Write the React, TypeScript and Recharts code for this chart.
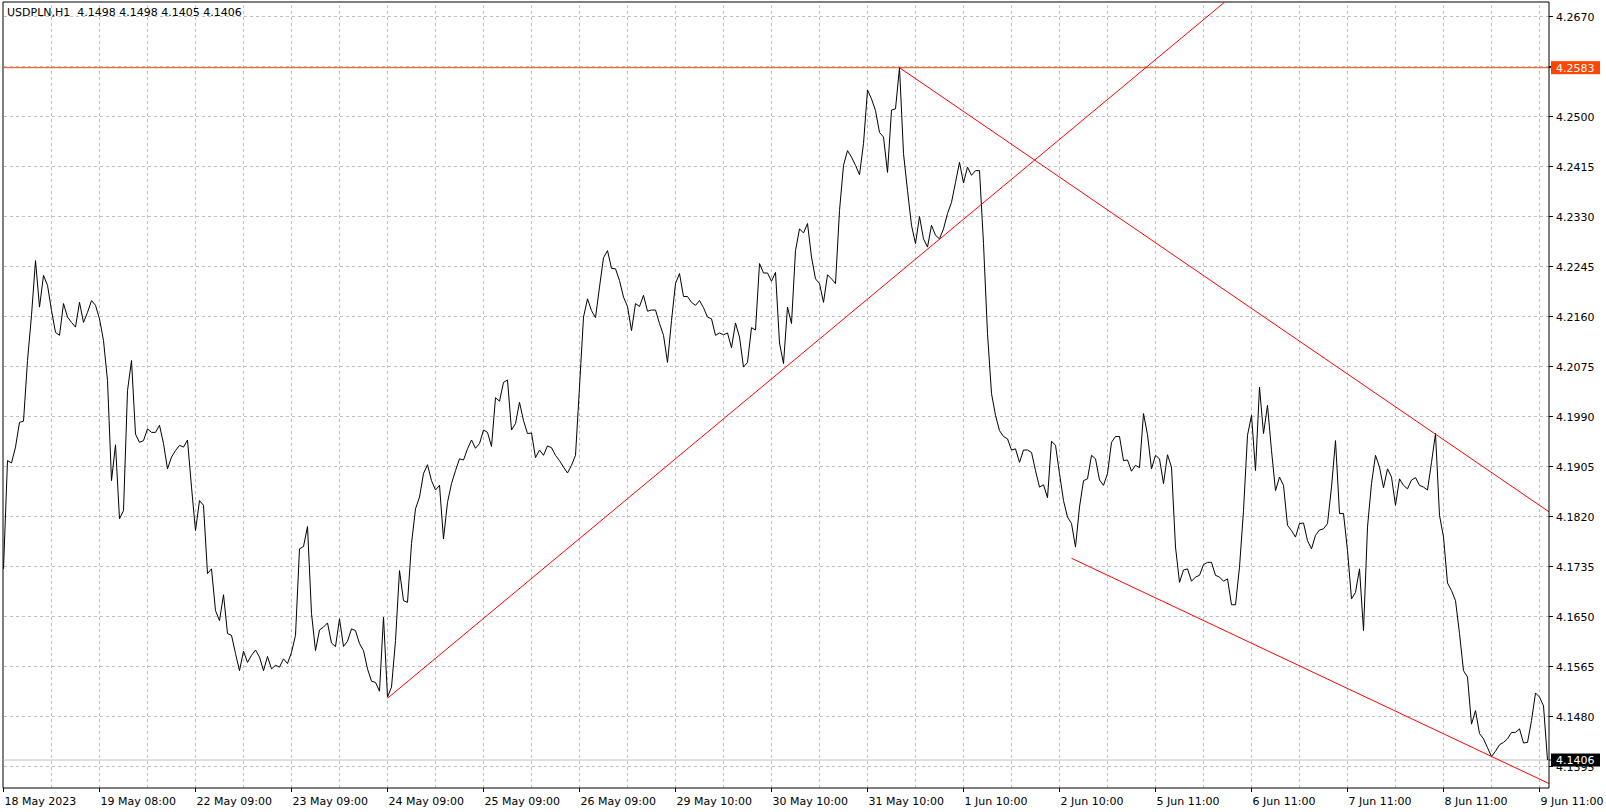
import { LineChart, Line, XAxis, YAxis, ReferenceLine } from 'recharts'

const FONT = '"DejaVu Sans", Tahoma, sans-serif'

const SYMBOL = 'USDPLN,H1'
// last bar: open, high, low, close
const LAST_OHLC = [4.1498, 4.1498, 4.1405, 4.1406]

// one label every 24 hourly bars
const X_LABELS = [
  '18 May 2023', '19 May 08:00', '22 May 09:00', '23 May 09:00', '24 May 09:00',
  '25 May 09:00', '26 May 09:00', '29 May 10:00', '30 May 10:00', '31 May 10:00',
  '1 Jun 10:00', '2 Jun 10:00', '5 Jun 11:00', '6 Jun 11:00', '7 Jun 11:00',
  '8 Jun 11:00', '9 Jun 11:00',
]
const LABEL_EVERY = 24
const GRID_EVERY = 12

const Y_TICKS = [
  4.1395, 4.148, 4.1565, 4.165, 4.1735, 4.182, 4.1905, 4.199,
  4.2075, 4.216, 4.2245, 4.233, 4.2415, 4.25, 4.2585, 4.267,
]

// H1 closes, bar 0 .. 386
const CLOSE = [
  4.1731, 4.1915, 4.1911, 4.1938, 4.1980, 4.1982, 4.2085, 4.2162, 4.2255, 4.2176, 4.2230, 4.2213,
  4.2170, 4.2133, 4.2128, 4.2182, 4.2159, 4.2150, 4.2142, 4.2184, 4.2150, 4.2167, 4.2187, 4.2179,
  4.2156, 4.2119, 4.2051, 4.1881, 4.1942, 4.1816, 4.1830, 4.2034, 4.2085, 4.1960, 4.1946, 4.1949,
  4.1969, 4.1963, 4.1963, 4.1975, 4.1944, 4.1901, 4.1921, 4.1932, 4.1941, 4.1938, 4.1950, 4.1870,
  4.1796, 4.1847, 4.1839, 4.1723, 4.1731, 4.1660, 4.1643, 4.1687, 4.1621, 4.1618, 4.1587, 4.1558,
  4.1591, 4.1572, 4.1584, 4.1593, 4.1581, 4.1558, 4.1582, 4.1561, 4.1567, 4.1564, 4.1578, 4.1570,
  4.1589, 4.1618, 4.1765, 4.1769, 4.1803, 4.1655, 4.1592, 4.1627, 4.1632, 4.1639, 4.1605, 4.1599,
  4.1646, 4.1599, 4.1608, 4.1629, 4.1626, 4.1604, 4.1592, 4.1561, 4.1540, 4.1538, 4.1523, 4.1649,
  4.1513, 4.1530, 4.1609, 4.1728, 4.1677, 4.1674, 4.1774, 4.1833, 4.1853, 4.1893, 4.1908, 4.1881,
  4.1865, 4.1873, 4.1782, 4.1844, 4.1876, 4.1898, 4.1918, 4.1916, 4.1935, 4.1950, 4.1936, 4.1944,
  4.1967, 4.1963, 4.1939, 4.2022, 4.2016, 4.2048, 4.2052, 4.1967, 4.1978, 4.2014, 4.1983, 4.1961,
  4.1962, 4.1920, 4.1933, 4.1924, 4.1940, 4.1937, 4.1924, 4.1915, 4.1904, 4.1894, 4.1907, 4.1924,
  4.2040, 4.2159, 4.2190, 4.2170, 4.2158, 4.2210, 4.2260, 4.2272, 4.2242, 4.2241, 4.2221, 4.2193,
  4.2177, 4.2136, 4.2182, 4.2177, 4.2196, 4.2169, 4.2171, 4.2171, 4.2148, 4.2128, 4.2082, 4.2153,
  4.2216, 4.2233, 4.2194, 4.2194, 4.2184, 4.2179, 4.2187, 4.2175, 4.2159, 4.2156, 4.2128, 4.2132,
  4.2129, 4.2132, 4.2107, 4.2149, 4.2125, 4.2074, 4.2082, 4.2141, 4.2137, 4.2250, 4.2234, 4.2234,
  4.2220, 4.2235, 4.2115, 4.2080, 4.2176, 4.2148, 4.2272, 4.2309, 4.2302, 4.2318, 4.2261, 4.2224,
  4.2216, 4.2184, 4.2231, 4.2224, 4.2216, 4.2340, 4.2417, 4.2442, 4.2431, 4.2417, 4.2401, 4.2454,
  4.2545, 4.2530, 4.2510, 4.2473, 4.2465, 4.2405, 4.2511, 4.2513, 4.2583, 4.2437, 4.2374, 4.2315,
  4.2284, 4.2330, 4.2292, 4.2278, 4.2315, 4.2298, 4.2292, 4.2309, 4.2335, 4.2354, 4.2388, 4.2422,
  4.2387, 4.2414, 4.2400, 4.2408, 4.2408, 4.2284, 4.2131, 4.2029, 4.1992, 4.1966, 4.1956, 4.1952,
  4.1933, 4.1935, 4.1912, 4.1933, 4.1933, 4.1929, 4.1898, 4.1870, 4.1874, 4.1852, 4.1948, 4.1941,
  4.1893, 4.1847, 4.1819, 4.1808, 4.1768, 4.1836, 4.1881, 4.1884, 4.1924, 4.1918, 4.1882, 4.1873,
  4.1893, 4.1946, 4.1956, 4.1956, 4.1915, 4.1916, 4.1897, 4.1907, 4.1903, 4.1995, 4.1959, 4.1901,
  4.1924, 4.1918, 4.1876, 4.1925, 4.1904, 4.1768, 4.1708, 4.1729, 4.1731, 4.1710, 4.1717, 4.1720,
  4.1738, 4.1742, 4.1742, 4.1720, 4.1717, 4.1710, 4.1714, 4.1670, 4.1670, 4.1734, 4.1830, 4.1958,
  4.1992, 4.1898, 4.2040, 4.1961, 4.2009, 4.1932, 4.1864, 4.1887, 4.1873, 4.1805, 4.1796, 4.1785,
  4.1808, 4.1809, 4.1779, 4.1765, 4.1788, 4.1797, 4.1799, 4.1808, 4.1870, 4.1949, 4.1825, 4.1825,
  4.1762, 4.1680, 4.1691, 4.1731, 4.1626, 4.1802, 4.1876, 4.1924, 4.1904, 4.1869, 4.1901, 4.1887,
  4.1839, 4.1884, 4.1873, 4.1867, 4.1882, 4.1886, 4.1873, 4.1870, 4.1865, 4.1912, 4.1961, 4.1822,
  4.1785, 4.1707, 4.1694, 4.1677, 4.1621, 4.1558, 4.1547, 4.1467, 4.1490, 4.1451, 4.1442, 4.1427,
  4.1412, 4.1421, 4.1432, 4.1436, 4.1442, 4.1453, 4.1453, 4.1459, 4.1435, 4.1436, 4.1473, 4.1520,
  4.1513, 4.1498, 4.1406,
]

const LEVEL = 4.2583
const LEVEL_COLOR = '#ff4500'
const BID_COLOR = '#c0c0c0'

// trend lines: [bar, price] pairs
const TREND_UP = [[96, 4.1511], [305.2, 4.2694]]
const TREND_DOWN = [[224, 4.2583], [386.375, 4.1828]]
const TREND_LOW = [[267, 4.1749], [386.375, 4.1366]]

const X_DOMAIN = [-0.125, 386.375]
const Y_DOMAIN = [4.135845, 4.269465]

const data = CLOSE.map((close, bar) => ({ bar, close }))
const labelBars = X_LABELS.map((_, k) => k * LABEL_EVERY)
const gridBars = Array.from({ length: (X_LABELS.length - 1) * 2 }, (_, k) => (k + 1) * GRID_EVERY)

// price tags go last so they are painted over the ordinary labels
const TAGS: Record<string, string> = {
  [LEVEL.toFixed(4)]: LEVEL_COLOR,
  [LAST_OHLC[3].toFixed(4)]: '#000',
}
const yAxisTicks = [...Y_TICKS, LEVEL, LAST_OHLC[3]]

function DateTick({ x, y, payload }: any) {
  const text = X_LABELS[Math.round(payload.value / LABEL_EVERY)]
  return (
    <g>
      <line x1={x} x2={x} y1={y} y2={y + 4} stroke="#000" />
      <text x={x + 1} y={y + 16.5} fontSize={11} fontFamily={FONT} fill="#000">
        {text}
      </text>
    </g>
  )
}

function PriceTick({ x, y, payload }: any) {
  const label = payload.value.toFixed(4)
  const bg = TAGS[label]
  if (bg && payload.index >= Y_TICKS.length) {
    return (
      <g>
        <rect x={x - 5} y={y - 6.5} width={49} height={13} fill={bg} />
        <text x={x} y={y + 4} fontSize={11} fontFamily={FONT} fill="#fff">
          {label}
        </text>
      </g>
    )
  }
  return (
    <text x={x} y={y + 4} fontSize={11} fontFamily={FONT} fill="#000">
      {label}
    </text>
  )
}

export default function App() {
  const seg = (t: number[][]) => t.map(([x, y]) => ({ x, y }))
  return (
    <div style={{ position: 'absolute', left: 0, top: 0, width: 1606, height: 812, background: '#fff' }}>
      <LineChart
        width={1606}
        height={812}
        data={data}
        margin={{ top: 2, right: 0, bottom: 0, left: 3 }}
      >
        {Y_TICKS.map((v) => (
          <ReferenceLine key={'h' + v} y={v} stroke="#c0c0c0" strokeDasharray="3 3" ifOverflow="visible" />
        ))}
        {gridBars.map((b) => (
          <ReferenceLine key={'v' + b} x={b} stroke="#c0c0c0" strokeDasharray="3 3" ifOverflow="visible" />
        ))}
        <XAxis
          dataKey="bar"
          type="number"
          domain={X_DOMAIN}
          ticks={labelBars}
          interval={0}
          allowDataOverflow
          height={24}
          tickSize={0}
          tickMargin={0}
          tickLine={false}
          axisLine={{ stroke: '#000' }}
          tick={<DateTick />}
        />
        <YAxis
          orientation="right"
          type="number"
          domain={Y_DOMAIN}
          ticks={yAxisTicks}
          interval={0}
          allowDataOverflow
          width={57}
          tickSize={4}
          tickMargin={3}
          axisLine={{ stroke: '#000' }}
          tickLine={{ stroke: '#000' }}
          tick={<PriceTick />}
        />
        <ReferenceLine x={X_DOMAIN[0]} stroke="#000" ifOverflow="visible" />
        <ReferenceLine y={Y_DOMAIN[1]} stroke="#000" ifOverflow="visible" />
        <ReferenceLine y={LAST_OHLC[3]} stroke={BID_COLOR} />
        <ReferenceLine y={LEVEL} stroke={LEVEL_COLOR} />
        <Line
          type="linear"
          dataKey="close"
          stroke="#000"
          strokeWidth={1}
          dot={false}
          isAnimationActive={false}
        />
        <ReferenceLine segment={seg(TREND_UP)} stroke="#ff0000" ifOverflow="visible" />
        <ReferenceLine segment={seg(TREND_DOWN)} stroke="#ff0000" ifOverflow="visible" />
        <ReferenceLine segment={seg(TREND_LOW)} stroke="#ff0000" ifOverflow="visible" />
      </LineChart>
      <div
        style={{
          position: 'absolute',
          left: 7,
          top: 6,
          fontFamily: FONT,
          fontSize: 11,
          lineHeight: '13px',
          color: '#000',
          whiteSpace: 'pre',
        }}
      >
        {SYMBOL + '  ' + LAST_OHLC.map((v) => v.toFixed(4)).join(' ')}
      </div>
    </div>
  )
}
